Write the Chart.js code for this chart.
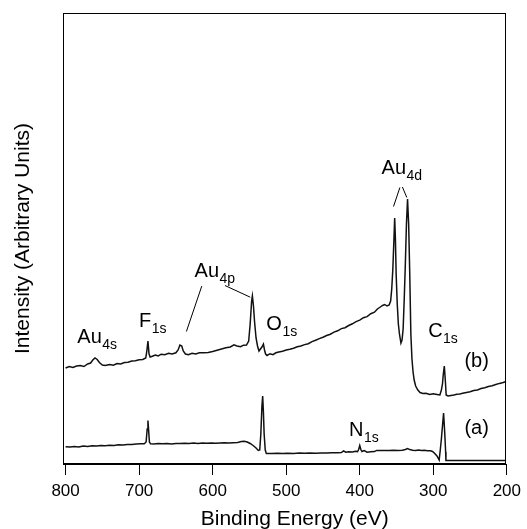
<!DOCTYPE html>
<html>
<head>
<meta charset="utf-8">
<script src="https://cdn.jsdelivr.net/npm/chart.js@4.4.1/dist/chart.umd.min.js"></script>
<style>
  html, body { margin: 0; padding: 0; background: #fff; }
  #wrap { width: 527px; height: 529px; }
</style>
</head>
<body>
<div id="wrap"><canvas id="xps" width="527" height="529"></canvas></div>
<script>
// XPS survey spectra, (a) and (b), binding energy axis reversed

const tickValues = [800, 700, 600, 500, 400, 300, 200];

// spectrum (b) - upper trace
const energyB = [800, 795, 790, 785, 780, 775, 770, 766, 763, 760, 757, 754, 750, 746, 740, 735, 730, 725, 720, 715,
  710, 705, 700, 695, 691, 689.5, 688, 686.5, 685, 682, 678, 674, 670, 665, 660, 655, 650, 647, 644.5, 642,
  640, 637, 633, 628, 623, 618, 612, 606, 600, 594, 588, 582, 576, 571, 567, 562, 558, 554, 551, 549,
  547, 546, 544.5, 543, 541, 539, 537, 535, 533, 531, 529.5, 528, 526, 522, 518, 514, 510, 505, 500, 495,
  490, 485, 480, 475, 470, 465, 460, 455, 450, 445, 440, 435, 430, 425, 420, 415, 410, 405, 400, 395,
  390, 385, 380, 376, 372, 369, 366, 363, 360, 358, 356.5, 355, 353.5, 352.5, 351.5, 350.5, 349, 347.5, 346, 344,
  342.5, 341, 339.5, 338, 336.5, 335, 333.5, 332, 330.5, 329, 327.5, 326, 324, 321, 318, 314, 310, 305, 300, 295,
  291, 289, 287.5, 286.5, 285, 283.5, 282.5, 280, 276, 272, 268, 264, 260, 255, 250, 245, 240, 235, 230, 225,
  220, 215, 210, 205, 201];
const intensityB = [96, 97.5, 96.5, 98, 98.5, 97.5, 100, 101, 104, 106, 104.5, 101.5, 99, 98.5, 99.5, 98.8, 100.5, 100, 101.5, 101.8,
  103, 103.2, 104.3, 104.5, 106, 113, 123, 110, 107, 107.8, 109, 108, 109.8, 109.3, 110.8, 110, 111.2, 114, 119, 118,
  113, 110, 109.2, 110.8, 110, 111.3, 111.2, 111.4, 112.5, 113.8, 115, 116.2, 117, 119.2, 118, 117.3, 118.8, 119, 123, 140,
  163, 168, 158, 142, 126, 118, 113, 115, 117, 120, 114, 110, 108.5, 110.3, 109.3, 111.2, 112, 112.8, 114, 114.8,
  115.8, 117.3, 118, 119.4, 120.3, 122.4, 123.8, 125.4, 126.8, 128.5, 129.8, 131.9, 133.2, 135.4, 136.3, 138.5, 140.2, 142.4, 143.8, 146.3,
  147.4, 150.3, 151.8, 155, 157, 158.5, 159.5, 158, 159, 163, 175, 195, 225, 246, 225, 190, 160, 140, 130, 121,
  124, 135, 165, 200, 240, 265, 240, 190, 130, 105, 92, 84, 78, 74, 71.5, 70.5, 70.8, 69.5, 70.2, 69.5,
  69, 74, 80, 89, 98, 82, 69, 68, 68.6, 69, 69.7, 70, 70.8, 71.5, 72.2, 73.5, 74.1, 75.5, 76.2, 77.5,
  78.2, 79.5, 80.6, 81.5, 82.5];

// spectrum (a) - lower trace
const energyA = [800, 794, 788, 782, 776, 770, 764, 758, 752, 746, 740, 734, 728, 722, 716, 710, 704, 698, 693, 690.5,
  689, 688, 687, 686, 684.5, 680, 674, 668, 662, 656, 650, 644, 638, 632, 626, 620, 614, 608, 602, 596,
  590, 584, 578, 572, 566, 561, 557, 553, 549, 545, 541, 538, 536, 534.5, 533, 532, 531, 530, 528.5, 527,
  520, 512, 505, 498, 490, 482, 475, 468, 460, 452, 445, 438, 430, 425, 422, 419, 415, 410, 406, 403,
  401.5, 400, 398.5, 397, 394, 390, 385, 380, 377, 372, 366, 360, 354, 348, 342, 338, 335, 332, 328, 324,
  320, 316, 312, 308, 304, 301, 298, 295, 292, 290.5, 289, 287.5, 286, 284.5, 283.2, 282.8, 281, 270, 250, 230,
  201];
const intensityA = [17.2, 17, 17.5, 17, 18, 17.5, 18.2, 18, 18.6, 18.3, 18.8, 18.6, 19.2, 19, 19.5, 19.6, 20, 20.2, 20.3, 22,
  35, 43.5, 33, 22, 20.2, 20, 20.5, 20.2, 20.5, 20, 20.6, 20.4, 20.8, 20.5, 20.9, 20.6, 21, 20.7, 21, 20.8,
  21, 21.2, 21, 21.3, 21.6, 22.5, 22.8, 22, 20.5, 18.5, 16, 13.5, 14, 30, 58, 68, 52, 30, 14, 10.5,
  10.5, 10.7, 10.4, 10.7, 10.6, 10.9, 10.7, 11, 10.8, 11.1, 10.9, 11.2, 11.2, 11.5, 13.2, 11.8, 12.3, 12.1, 12.8, 12.4,
  14.5, 18.5, 14.5, 12.5, 13.5, 11.8, 12.2, 12.4, 13.6, 13.4, 13.6, 13.5, 13.8, 13.4, 13.8, 14.5, 15.5, 14.4, 13.8, 13.5,
  14, 13.4, 13.8, 13.3, 13.2, 12.5, 10.5, 8, 4, 14, 25, 38, 51, 32, 12, 3.5, 3.5, 3.5, 3.5, 3.5,
  3.5];

// peak labels: main text, subscript, anchor in data units (energy, intensity)
const peakLabels = [
  ['Au', '4s', 784, 121.5],
  ['F', '1s', 700, 137],
  ['Au', '4p', 624.6, 187.3],
  ['O', '1s', 527, 134],
  ['Au', '4d', 370.3, 290.5],
  ['C', '1s', 307, 127.5],
  ['N', '1s', 414.7, 28.5],
  ['(b)', '', 257.7, 97],
  ['(a)', '', 257.7, 30.5]
];

// leader lines from labels to peaks: [E1, v1, E2, v2]
const leaderLines = [
  [614.8, 177.9, 635.7, 132.5],
  [583.3, 178.5, 548.9, 166.8],
  [345.4, 276.5, 354.1, 257.5],
  [342, 277, 336, 266.5]
];

const fontFamily = '"Liberation Sans", Arial, Helvetica, sans-serif';

function toPoints(xs, ys) {
  return xs.map((x, i) => ({ x: x, y: ys[i] }));
}

const framePlugin = {
  id: 'frame',
  afterDraw(chart) {
    const { ctx, chartArea: a } = chart;
    ctx.save();
    ctx.strokeStyle = '#000';
    ctx.lineWidth = 1;
    const l = Math.round(a.left) + 0.5, t = Math.round(a.top) + 0.5;
    const r = Math.round(a.right) - 0.5, b = Math.round(a.bottom) - 0.5;
    ctx.strokeRect(l, t, r - l, b - t);
    // x axis title
    ctx.fillStyle = '#000';
    ctx.font = '21px ' + fontFamily;
    ctx.textAlign = 'center';
    ctx.textBaseline = 'alphabetic';
    ctx.fillText('Binding Energy (eV)', (a.left + a.right) / 2 + 10, a.bottom + 61);
    ctx.restore();
  }
};

const labelPlugin = {
  id: 'peakLabels',
  afterDatasetsDraw(chart) {
    const { ctx } = chart;
    const xs = chart.scales.x, ys = chart.scales.y;
    ctx.save();
    ctx.fillStyle = '#000';
    ctx.strokeStyle = '#000';
    ctx.lineWidth = 1;
    leaderLines.forEach(([e1, v1, e2, v2]) => {
      ctx.beginPath();
      ctx.moveTo(xs.getPixelForValue(e1), ys.getPixelForValue(v1));
      ctx.lineTo(xs.getPixelForValue(e2), ys.getPixelForValue(v2));
      ctx.stroke();
    });
    ctx.textAlign = 'left';
    ctx.textBaseline = 'alphabetic';
    peakLabels.forEach(([main, sub, e, v]) => {
      const x = xs.getPixelForValue(e), y = ys.getPixelForValue(v);
      ctx.font = '20px ' + fontFamily;
      ctx.fillText(main, x, y);
      if (sub) {
        const w = ctx.measureText(main).width;
        ctx.font = '14px ' + fontFamily;
        ctx.fillText(sub, x + w + 0.5, y + 6);
      }
    });
    ctx.restore();
  }
};

const ctx = document.getElementById('xps').getContext('2d');

new Chart(ctx, {
  type: 'line',
  data: {
    datasets: [
      {
        label: '(a)',
        data: toPoints(energyA, intensityA),
        borderColor: '#111',
        borderWidth: 1.5,
        pointRadius: 0,
        tension: 0
      },
      {
        label: '(b)',
        data: toPoints(energyB, intensityB),
        borderColor: '#111',
        borderWidth: 1.5,
        pointRadius: 0,
        tension: 0
      }
    ]
  },
  options: {
    responsive: false,
    animation: false,
    devicePixelRatio: 1,
    layout: { padding: { top: 13, right: 16, left: 0, bottom: 0 } },
    plugins: {
      legend: { display: false },
      tooltip: { enabled: false }
    },
    scales: {
      x: {
        type: 'linear',
        reverse: true,
        min: 200.5,
        max: 803.5,
        afterBuildTicks: (s) => { s.ticks = tickValues.map(v => ({ value: v })); },
        afterFit: (s) => { s.height = 65; },
        grid: { drawOnChartArea: false, drawTicks: true, tickLength: 11, color: '#000', lineWidth: 1 },
        border: { display: true, color: '#000', width: 1 },
        ticks: { color: '#000', font: { family: fontFamily, size: 17 }, padding: 6, maxRotation: 0, autoSkip: false },
        title: { display: false }
      },
      y: {
        min: 0,
        max: 451,
        afterFit: (s) => { s.width = 63; },
        grid: { display: false },
        border: { display: false },
        ticks: { display: false },
        title: {
          display: true,
          text: 'Intensity (Arbitrary Units)',
          color: '#000',
          font: { family: fontFamily, size: 21 },
          padding: { top: 11, bottom: 0 }
        }
      }
    }
  },
  plugins: [framePlugin, labelPlugin]
});
</script>
</body>
</html>
